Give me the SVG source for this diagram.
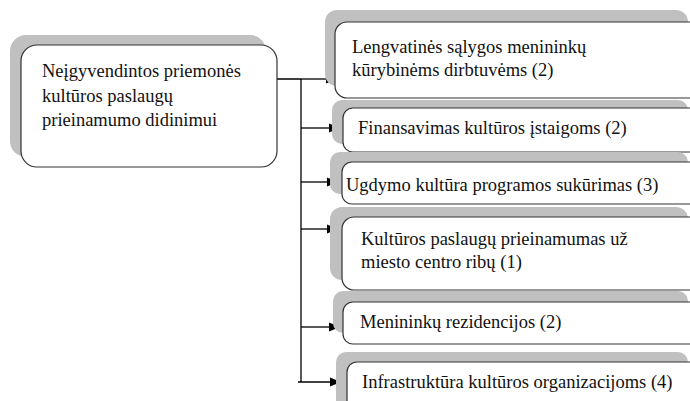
<svg xmlns="http://www.w3.org/2000/svg" width="690" height="401" viewBox="0 0 690 401">
<style>
.sh{fill:#c0c0c0;stroke:none}
.bx{fill:#fff;stroke:#333;stroke-width:1.2}
.t{font-family:'Liberation Serif','DejaVu Serif','Times New Roman',serif;font-size:18.5px;fill:#111}
.ln{stroke:#000;stroke-width:1.3;fill:none}
</style>
<defs>
<path id="ah" d="M-11,-4.5 L0,0 L-11,4.5 Z" fill="#000"/>
</defs>
<rect width="690" height="401" fill="#fff"/>
<g id="connectors">
<path class="ln" d="M277,79 H301 M301,79 V382"/>
<path class="ln" d="M301,79 H330"/>
<use href="#ah" x="337" y="79"/>
<path class="ln" d="M301,128 H333"/>
<use href="#ah" x="340" y="128"/>
<path class="ln" d="M301,182 H331"/>
<use href="#ah" x="338" y="182"/>
<path class="ln" d="M301,229 H331"/>
<use href="#ah" x="338" y="229"/>
<path class="ln" d="M301,327 H333"/>
<use href="#ah" x="340" y="327"/>
<path class="ln" d="M298,382 H334"/>
<use href="#ah" x="341" y="382"/>
</g>
<g id="main">
<rect class="sh" x="10" y="35" width="256" height="122" rx="16"/>
<rect class="bx" x="21" y="45" width="256" height="122" rx="16"/>
<text class="t" x="42" y="77">Neįgyvendintos priemonės</text>
<text class="t" x="42" y="101.5">kultūros paslaugų</text>
<text class="t" x="42" y="126">prieinamumo didinimui</text>
</g>
<g id="n1">
<rect class="sh" x="325" y="10" width="363" height="76" rx="12"/>
<rect class="bx" x="335" y="22" width="370" height="76" rx="12"/>
<text class="t" x="352" y="53">Lengvatinės sąlygos menininkų</text>
<text class="t" x="352" y="76">kūrybinėms dirbtuvėms (2)</text>
</g>
<g id="n2">
<rect class="sh" x="332" y="100" width="356" height="44" rx="10"/>
<rect class="bx" x="343" y="108" width="370" height="44" rx="10"/>
<text class="t" x="358" y="133.5">Finansavimas kultūros įstaigoms (2)</text>
</g>
<g id="n3">
<rect class="sh" x="330" y="152" width="358" height="42" rx="10"/>
<rect class="bx" x="342" y="162" width="370" height="42" rx="10"/>
<text class="t" x="346" y="191">Ugdymo kultūra programos sukūrimas (3)</text>
</g>
<g id="n4">
<rect class="sh" x="330" y="207" width="358" height="73" rx="12"/>
<rect class="bx" x="342" y="217" width="370" height="73" rx="12"/>
<text class="t" x="361" y="245">Kultūros paslaugų prieinamumas už</text>
<text class="t" x="361" y="268">miesto centro ribų (1)</text>
</g>
<g id="n5">
<rect class="sh" x="333" y="291" width="355" height="42" rx="10"/>
<rect class="bx" x="343" y="302" width="370" height="42" rx="10"/>
<text class="t" x="360" y="328">Menininkų rezidencijos (2)</text>
</g>
<g id="n6">
<rect class="sh" x="336" y="352" width="352" height="60" rx="10"/>
<rect class="bx" x="347" y="362" width="370" height="60" rx="10"/>
<text class="t" x="362" y="388">Infrastruktūra kultūros organizacijoms (4)</text>
</g>
</svg>
